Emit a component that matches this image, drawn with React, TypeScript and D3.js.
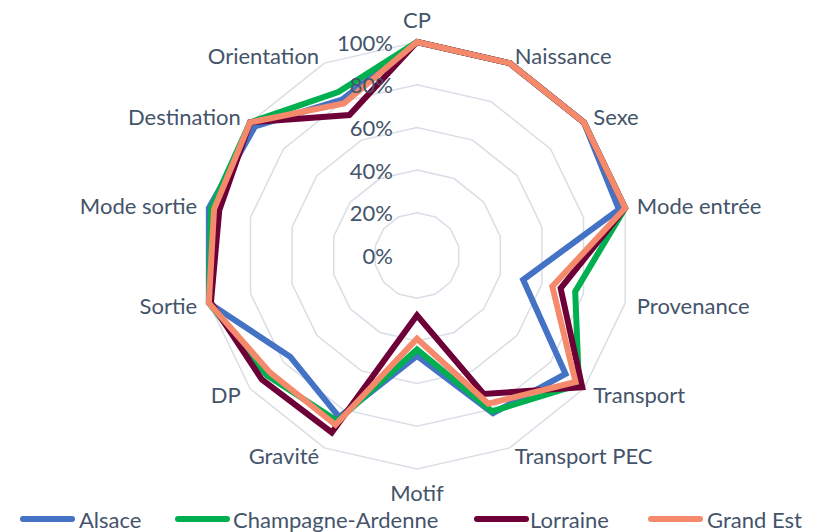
import React from "react";
import * as d3 from "d3";

const categories = ["CP", "Naissance", "Sexe", "Mode entrée", "Provenance", "Transport", "Transport PEC", "Motif", "Gravité", "DP", "Sortie", "Mode sortie", "Destination", "Orientation"];
const alsace = [100, 100, 100, 97, 51, 89, 82, 47, 84, 76, 100, 100, 97, 81];
const champagne = [100, 100, 100, 100, 76, 97, 81, 44, 86, 90, 100, 99, 100, 85];
const lorraine = [100, 100, 100, 100, 69, 99, 72, 28, 92, 93, 99, 95, 100, 73];
const grandEst = [100, 100, 100, 100, 65, 95, 77, 39, 88, 88, 100, 97.5, 100, 79];
const tickValues = [0, 20, 40, 60, 80, 100];
const seriesNames = ["Alsace", "Champagne-Ardenne", "Lorraine", "Grand Est"];
const seriesColors = ["#4472C4", "#00B050", "#6E0038", "#F4896B"];

const W = 815, H = 532;
const cx = 417, cy = 255.5, R = 213.5;
const FONT = "Lato, 'Open Sans', sans-serif";
const TEXT = "#44546A";

export default function App() {
  const series = [alsace, champagne, lorraine, grandEst];
  const n = categories.length;
  const angle = d3.scaleLinear().domain([0, n]).range([0, 2 * Math.PI]);
  const r = d3.scaleLinear().domain([0, 100]).range([0, R]);
  const pt = (i: number, v: number): [number, number] => {
    const a = angle(i);
    return [cx + r(v) * Math.sin(a), cy - r(v) * Math.cos(a)];
  };
  const line = d3.line<[number, number]>().curve(d3.curveLinearClosed);

  const legendItems = [
    { x0: 20, tx: 79 },
    { x0: 175, tx: 233 },
    { x0: 474, tx: 530 },
    { x0: 648, tx: 707 },
  ];

  return (
    <svg width={W} height={H} style={{ position: "absolute", left: 0, top: 0, background: "#fff" }} fontFamily={FONT}>
      <rect width={W} height={H} fill="#fff" />
      {tickValues.filter((t) => t > 0).map((t) => (
        <path key={t} d={line(categories.map((_, i) => pt(i, t))) || ""} fill="none" stroke="#D9DEE6" strokeWidth={1.5} />
      ))}
      {series.map((s, k) => (
        <path key={k} d={line(s.map((v, i) => pt(i, v))) || ""} fill="none" stroke={seriesColors[k]} strokeWidth={6} strokeLinejoin="miter" strokeMiterlimit={4} />
      ))}
      {tickValues.map((t) => (
        <text key={t} x={cx - 24} y={cy - r(t)} textAnchor="end" dominantBaseline="central" fontSize={22} fill={TEXT}>
          {t}%
        </text>
      ))}
      {categories.map((c, i) => {
        const a = angle(i);
        const s = Math.sin(a), co = Math.cos(a);
        const x = cx + (R + 12) * s;
        let y = cy - (R + 9) * co;
        let anchor = "middle";
        if (s > 0.01) anchor = "start";
        else if (s < -0.01) anchor = "end";
        else y -= 14 * Math.sign(co);
        return (
          <text key={c} x={x} y={y} textAnchor={anchor} dominantBaseline="central" fontSize={22} fill={TEXT}>
            {c}
          </text>
        );
      })}
      {seriesNames.map((name, k) => (
        <g key={name}>
          <line x1={legendItems[k].x0 + 3} x2={legendItems[k].x0 + 52} y1={519} y2={519} stroke={seriesColors[k]} strokeWidth={6} strokeLinecap="round" />
          <text x={legendItems[k].tx} y={519} dominantBaseline="central" fontSize={22} fill={TEXT}>
            {name}
          </text>
        </g>
      ))}
    </svg>
  );
}
